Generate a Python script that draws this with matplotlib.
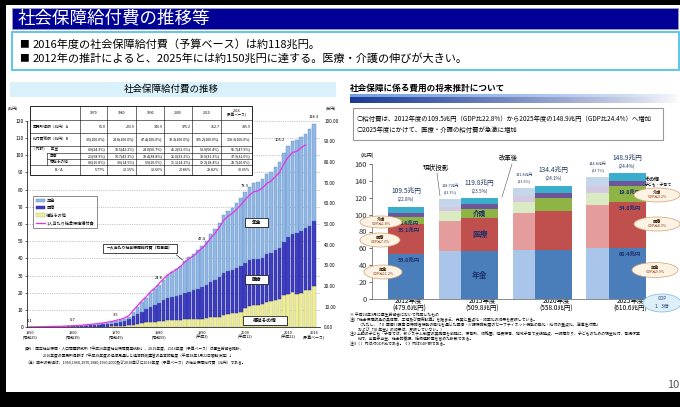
import matplotlib
matplotlib.use('Agg')
import matplotlib.pyplot as plt
from matplotlib.patches import Rectangle, Ellipse, Patch
from matplotlib.lines import Line2D
import numpy as np

plt.rcParams['font.family'] = ['Noto Sans CJK JP', 'DejaVu Sans']

# ---------------- data: left chart (社会保障給付費の推移) ----------------
years = list(range(1950, 2017))
pension = [0.00, 0.00, 0.01, 0.01, 0.02, 0.02, 0.03, 0.04, 0.05, 0.08,
           0.15, 0.17, 0.20, 0.23, 0.27, 0.32, 0.39, 0.47, 0.56, 0.67,
           0.86, 1.02, 1.28, 1.63, 2.48, 3.88, 5.32, 6.48, 7.92, 9.13,
           10.5, 11.9, 13.2, 14.3, 15.3, 17.0, 18.9, 20.2, 21.0, 22.5,
           24.0, 25.7, 27.5, 29.1, 31.3, 33.5, 34.7, 36.1, 37.7, 39.5,
           41.2, 42.6, 44.2, 44.7, 45.5, 46.1, 47.3, 48.3, 49.5, 51.7,
           53.0, 53.8, 53.9, 54.6, 54.3, 56.0, 56.7]
medical = [0.06, 0.08, 0.10, 0.14, 0.16, 0.20, 0.21, 0.22, 0.27, 0.29,
           0.29, 0.39, 0.49, 0.62, 0.79, 0.95, 1.11, 1.27, 1.48, 1.69,
           2.06, 2.30, 2.80, 3.51, 5.06, 5.71, 6.68, 7.59, 8.76, 9.49,
           10.7, 11.9, 12.9, 13.6, 14.1, 14.3, 15.1, 15.8, 16.5, 17.4,
           18.4, 19.2, 20.7, 21.7, 23.0, 24.1, 25.1, 25.3, 25.9, 26.4,
           26.0, 26.6, 26.2, 26.6, 27.1, 28.1, 28.1, 28.9, 29.6, 30.8,
           32.9, 34.0, 35.3, 36.0, 36.4, 37.2, 37.9]
welfare = [0.07, 0.08, 0.09, 0.11, 0.12, 0.17, 0.16, 0.17, 0.18, 0.18,
           0.21, 0.23, 0.26, 0.29, 0.31, 0.33, 0.37, 0.41, 0.45, 0.50,
           0.60, 0.70, 0.85, 1.10, 1.48, 2.18, 2.49, 2.79, 3.09, 3.36,
           3.6, 3.8, 4.0, 4.1, 4.2, 4.4, 4.6, 4.7, 4.9, 5.0,
           5.0, 5.2, 5.7, 6.0, 6.2, 7.4, 7.8, 8.1, 8.5, 9.1,
           11.1, 12.2, 13.2, 12.9, 13.4, 14.7, 15.0, 15.9, 16.7, 18.5,
           19.3, 20.3, 19.4, 20.1, 21.4, 21.7, 23.7]
pc_years = list(range(1950, 2015))
per_capita = [0.16, 0.19, 0.23, 0.30, 0.34, 0.44, 0.44, 0.47, 0.54, 0.59,
              0.70, 0.84, 1.00, 1.19, 1.41, 1.63, 1.89, 2.15, 2.46, 2.79,
              3.39, 3.82, 4.58, 5.72, 8.16, 10.52, 12.82, 14.77, 17.17, 18.92,
              21.18, 23.38, 25.33, 26.75, 27.95, 29.47, 31.70, 33.31, 34.51, 36.46,
              38.36, 40.37, 43.26, 45.49, 48.30, 51.75, 53.73, 55.06, 57.04, 59.23,
              61.74, 63.95, 65.58, 66.03, 67.35, 69.54, 70.73, 72.90, 74.84, 79.17,
              82.31, 84.58, 85.14, 86.90, 88.21]
label_years = [1950, 1960, 1970, 1980, 1990, 2000, 2010, 2016]
label_texts = ['0.1', '0.7', '3.5', '24.8', '47.4', '78.3', '105.2', '118.3']
xtick_years = [1950, 1960, 1970, 1980, 1990, 2000, 2010, 2016]
xtick_eras = ['(昭和25)', '(昭和35)', '(昭和45)', '(昭和55)', '(平成2)', '(平成12)', '(平成22)', '(予算ベース)']

table_cols = ['1970', '1980', '1990', '2000', '2010', '2016\n(予算ベース)']
national_income = ['61.0', '203.9', '346.9', '375.2', '352.7', '385.9']
total_benefit = ['3.5(100.0%)', '24.8(100.0%)', '47.4(100.0%)', '78.3(100.0%)', '105.2(100.0%)', '118.3(100.0%)']
pension_row = ['0.9(24.3%)', '10.5(42.2%)', '24.0(50.7%)', '41.2(52.6%)', '53.0(50.4%)', '56.7(47.9%)']
medical_row = ['2.1(58.9%)', '10.7(43.3%)', '18.4(38.8%)', '26.0(33.2%)', '32.9(31.3%)', '37.9(32.0%)']
welfare_row = ['0.6(16.8%)', '3.6(14.5%)', '5.0(10.5%)', '11.1(14.2%)', '19.3(18.4%)', '23.7(20.0%)']
ratio_row = ['5.77%', '12.15%', '13.66%', '20.86%', '29.82%', '30.65%']

# ---------------- data: right chart (将来推計) ----------------
proj_years = ['2012年度', '2015年度', '2020年度', '2025年度']
proj_gdp = ['(479.6兆円)', '(509.8兆円)', '(558.0兆円)', '(610.6兆円)']
proj_pct = ['(22.8%)', '(23.5%)', '(24.1%)', '(24.4%)']
seg_names = ['年金', '医療', '介護', '子ども・子育て', 'その他']
reform = {  # 改革後
    '年金': [53.8, 56.5, 58.5, 60.4],
    '医療': [35.1, 40.0, 46.0, 54.0],
    '介護': [8.4, 10.5, 15.3, 19.8],
    '子ども・子育て': [4.8, 5.5, 6.0, 5.6],
    'その他': [7.4, 7.3, 8.6, 9.1],
}
current = {  # 現状投影 (2015, 2020, 2025)
    '年金': [56.5, 58.5, 60.4],
    '医療': [36.5, 44.0, 51.5],
    '介護': [11.0, 12.5, 13.5],
    '子ども・子育て': [5.5, 6.5, 8.0],
    'その他': [9.2, 10.3, 11.4],
}
current_pct = ['(23.3%)', '(23.6%)', '(23.7%)']

# ---------------- figure ----------------
W, H = 680, 407
fig = plt.figure(figsize=(6.8, 4.07), dpi=100, facecolor='black')


def rect(x0, y0, x1, y1):
    return [x0 / W, 1 - y1 / H, (x1 - x0) / W, (y1 - y0) / H]


bg = fig.add_axes([0, 0, 1, 1], zorder=0)
bg.set_xlim(0, W); bg.set_ylim(H, 0); bg.axis('off')
fg = fig.add_axes([0, 0, 1, 1], zorder=10)
fg.set_xlim(0, W); fg.set_ylim(H, 0); fg.axis('off')

# slide background
bg.add_patch(Rectangle((6, 5), 674, 387, fc='white', ec='none'))

# header
bg.add_patch(Rectangle((12, 8), 666, 20.5, fc='#000096', ec='#9a9ab8', lw=0.6))
bg.text(18, 18.5, '社会保障給付費の推移等', color='white', fontsize=12.6, va='center')
bg.add_patch(Rectangle((12, 32), 667, 38, fc='white', ec='#55C2E6', lw=1.3))
bg.text(19, 44, '■', fontsize=7, va='center')
bg.text(33, 44, '2016年度の社会保障給付費（予算ベース）は約118兆円。', fontsize=8.0, va='center')
bg.text(19, 58, '■', fontsize=7, va='center')
bg.text(33, 58, '2012年の推計によると、2025年には約150兆円に達する。医療・介護の伸びが大きい。', fontsize=8.0, va='center')

# ---------------- left chart ----------------
bg.add_patch(Rectangle((10, 82), 326, 15, fc='#D8F1FA', ec='none'))
bg.text(171, 89.5, '社会保障給付費の推移', fontsize=6.8, ha='center', va='center')

c_pen, c_med, c_wel, c_pc = '#92B8E4', '#3E3EC2', '#EEEE9A', '#E632E6'
ax1 = fig.add_axes(rect(27, 120.6, 320, 327.3), zorder=2)
ax1.set_facecolor('none')
px_per_year = 4.303
ax1.set_xlim(1950 - 3 / px_per_year, 1950 + 290 / px_per_year)
ax1.set_ylim(0, 120)
b1 = np.array(welfare)
b2 = b1 + np.array(medical)
ax1.bar(years, welfare, width=0.8, color=c_wel, edgecolor='#B9B96A', lw=0.3, zorder=3)
ax1.bar(years, medical, bottom=b1, width=0.8, color=c_med, edgecolor='#26268C', lw=0.3, zorder=3)
ax1.bar(years, pension, bottom=b2, width=0.8, color=c_pen, edgecolor='#5E8CC4', lw=0.3, zorder=3)
ax1.set_yticks(range(0, 121, 10))
ax1.yaxis.grid(True, ls=(0, (2, 2)), color='#9a9a9a', lw=0.4)
ax1.set_axisbelow(True)
ax1.tick_params(axis='y', labelsize=3.6, length=1.5, width=0.4, pad=1)
ax1.set_xticks(xtick_years)
ax1.set_xticklabels([f'{y}\n{e}' for y, e in zip(xtick_years, xtick_eras)], fontsize=2.8, linespacing=1.3)
ax1.tick_params(axis='x', length=0, pad=2.5)
for s in ['top', 'right']:
    ax1.spines[s].set_visible(False)
for s in ['left', 'bottom']:
    ax1.spines[s].set_linewidth(0.5)
totals = dict(zip(years, b2 + np.array(pension)))
for yr, txt in zip(label_years, label_texts):
    dx = -6 if yr == 2010 else 0
    ax1.annotate(txt, (yr, totals[yr]), xytext=(dx, 3), textcoords='offset points',
                 ha='center', va='bottom', fontsize=2.9, zorder=6)

ax1r = ax1.twinx()
ax1r.set_ylim(0, 100)
ax1r.plot(pc_years, per_capita, color=c_pc, lw=0.9, zorder=5)
ax1r.set_yticks(range(0, 101, 10))
ax1r.set_yticklabels([f'{v:.2f}' for v in range(0, 101, 10)])
ax1r.tick_params(axis='y', labelsize=3.3, length=0, pad=3)
for s in ['top', 'right', 'left', 'bottom']:
    ax1r.spines[s].set_visible(False)

leg = ax1.legend(handles=[Patch(fc=c_pen, ec='#5E8CC4', lw=0.3, label='年金'),
                          Patch(fc=c_med, ec='#26268C', lw=0.3, label='医療'),
                          Patch(fc=c_wel, ec='#B9B96A', lw=0.3, label='福祉その他'),
                          Line2D([], [], color=c_pc, lw=0.9, label='1人当たり社会保障給付費')],
                 loc='upper left', bbox_to_anchor=(0.015, 0.645), fontsize=3, frameon=True,
                 fancybox=False, edgecolor='black', handlelength=2.2, handleheight=0.9,
                 borderpad=0.6, labelspacing=0.75, handletextpad=0.3)
leg.get_frame().set_linewidth(0.4)
leg.set_zorder(7)

fg.text(13, 108.5, '(兆円)', fontsize=2.8, ha='center', va='center')
fg.text(331, 108.5, '(万円)', fontsize=2.8, ha='center', va='center')

# table
row_y = [106, 120, 133, 146, 153, 159, 165, 175]
col_x = [30, 80, 107, 136, 164, 192, 221, 252]
fg.add_patch(Rectangle((col_x[0], row_y[0]), col_x[-1] - col_x[0], row_y[-1] - row_y[0],
                       fc='white', ec='black', lw=0.6))
for i, yv in enumerate(row_y[1:-1], start=1):
    x_start = 47 if i in (4, 5) else col_x[0]
    fg.plot([x_start, col_x[-1]], [yv, yv], color='black', lw=0.4)
for xv in col_x[1:-1]:
    fg.plot([xv, xv], [row_y[0], row_y[-1]], color='black', lw=0.4)
fg.plot([47, 47], [row_y[4], row_y[6]], color='black', lw=0.4)
for j, c in enumerate(table_cols):
    fg.text((col_x[j + 1] + col_x[j + 2]) / 2, (row_y[0] + row_y[1]) / 2, c, fontsize=2.5,
            ha='center', va='center', linespacing=1.1)
row_labels = [('国民所得額（兆円）A', 33), ('給付費総額（兆円）B', 33), ('（内訳）　年金', 32),
              ('医療', 50), ('福祉その他', 50), ('B／A', 55)]
rows_data = [national_income, total_benefit, pension_row, medical_row, welfare_row, ratio_row]
for i, ((lab, lx), vals) in enumerate(zip(row_labels, rows_data)):
    yc = (row_y[i + 1] + row_y[i + 2]) / 2
    fg.text(lx, yc, lab, fontsize=2.7, ha='left', va='center')
    for j, v in enumerate(vals):
        fg.text(col_x[j + 2] - 1.5, yc, v, fontsize=2.6, ha='right', va='center')

# in-chart boxes
for (x0, y0, w, h, s) in [(245, 218, 23, 9, '年金'), (245, 275, 23, 9, '医療'), (243, 316, 44, 9, '福祉その他')]:
    fg.add_patch(Rectangle((x0 + 1, y0 + 1), w, h, fc='#777777', ec='none'))
    fg.add_patch(Rectangle((x0, y0), w, h, fc='white', ec='black', lw=0.5))
    fg.text(x0 + w / 2, y0 + h / 2, s, fontsize=3.4, fontweight='bold', ha='center', va='center')
fg.add_patch(Rectangle((103, 244), 74, 9, fc='white', ec='black', lw=0.5))
fg.text(140, 248.5, '一人当たり社会保障給付費（右目盛）', fontsize=2.8, fontweight='bold', ha='center', va='center')
ax1r.annotate('', xy=(1986, per_capita[pc_years.index(1986)]), xytext=(174 / W, 1 - 253 / H),
              textcoords='figure fraction',
              arrowprops=dict(arrowstyle='-', color='black', lw=0.4))

# notes left
fg.text(25, 349, '資料：国立社会保障・人口問題研究所「平成26年度社会保障費用統計」、2015年度、2016年度（予算ベース）は厚生労働省推計、',
        fontsize=2.7, va='center')
fg.text(43, 356, '2016年度の国民所得額は「平成28年度の経済見通しと経済財政運営の基本的態度（平成28年1月22日閣議決定）」',
        fontsize=2.7, va='center')
fg.text(25, 362.5, '（注）図中の数値は、1950,1960,1970,1980,1990,2000及び2010並びに2016年度（予算ベース）の社会保障給付費（兆円）である。',
        fontsize=2.7, va='center')

# ---------------- right chart ----------------
fg.text(350, 88, '社会保障に係る費用の将来推計について', fontsize=6.2, fontweight='bold', va='center')
grad = np.linspace(1, 0, 256)
g1 = np.zeros((1, 256, 4)); g1[..., 0] = 0.45; g1[..., 1] = 0.62; g1[..., 2] = 0.88; g1[..., 3] = grad ** 0.6
g2 = np.zeros((1, 256, 4)); g2[..., 0] = 0.10; g2[..., 1] = 0.22; g2[..., 2] = 0.58; g2[..., 3] = grad ** 0.8
bg.imshow(g1, extent=(350, 680, 97, 94), aspect='auto', interpolation='bilinear', zorder=2)
bg.imshow(g2, extent=(350, 680, 103, 97), aspect='auto', interpolation='bilinear', zorder=2)
bg.set_xlim(0, W); bg.set_ylim(H, 0)
bg.add_patch(Rectangle((353, 108), 310, 32, fc='white', ec='#9a9a9a', lw=0.8))
bg.text(357, 119, '○給付費は、2012年度の109.5兆円（GDP比22.8%）から2025年度の148.9兆円（GDP比24.4%）へ増加',
        fontsize=4.6, va='center')
bg.text(357, 130, '○2025年度にかけて、医療・介護の給付費が急激に増加', fontsize=4.6, va='center')

dark_cols = {'年金': '#4A7EBB', '医療': '#C0504D', '介護': '#8DB444', '子ども・子育て': '#6F559A', 'その他': '#3AAECB'}
light_cols = {'年金': '#A9C6EA', '医療': '#E59C9C', '介護': '#DAEAC2', '子ども・子育て': '#D3CAE2', 'その他': '#C4D6EA'}
ax2 = fig.add_axes(rect(372, 164, 650, 299), zorder=2)
ax2.set_facecolor('none')
ax2.set_ylim(0, 160)
ax2.set_xlim(-0.461, 3.31)
pos = np.arange(len(proj_years))
bw = 0.5
off = -0.305
bottom_c = np.zeros(3)
for s in seg_names:
    ax2.bar(pos[1:] + off, current[s], bottom=bottom_c, width=bw, color=light_cols[s], ec='none', zorder=2)
    bottom_c += np.array(current[s])
bottom_r = np.zeros(4)
tops = {}
for s in seg_names:
    ax2.bar(pos, reform[s], bottom=bottom_r, width=bw, color=dark_cols[s], ec='none', zorder=3)
    bottom_r = bottom_r + np.array(reform[s])
    tops[s] = bottom_r.copy()
ax2.set_yticks(range(0, 161, 20))
ax2.tick_params(axis='y', labelsize=5.4, length=2, width=0.5, pad=1.5, colors='#333333')
ax2.set_xticks(pos + 0.04)
ax2.set_xticklabels([f'{a}\n{b}' for a, b in zip(proj_years, proj_gdp)], fontsize=4.7, linespacing=1.0)
ax2.tick_params(axis='x', length=0, pad=-1.5)
for s in ['top', 'right']:
    ax2.spines[s].set_visible(False)
for s in ['left', 'bottom']:
    ax2.spines[s].set_linewidth(0.6)
    ax2.spines[s].set_color('#777777')
fg.text(367, 155, '(兆円)', fontsize=3.6, ha='center', va='center')

navy = '#1F2F6B'
for i in range(4):
    ax2.annotate(f'{bottom_r[i]:.1f}兆円', (pos[i], bottom_r[i]), xytext=(0, 11), textcoords='offset points',
                 ha='center', va='center', fontsize=4.8, color='#1F3A5F', zorder=6)
    ax2.annotate(proj_pct[i], (pos[i], bottom_r[i]), xytext=(0, 5), textcoords='offset points',
                 ha='center', va='center', fontsize=3.4, color='#1F3A5F', zorder=6)
cur_tot = bottom_c
for i in range(3):
    ax2.annotate(f'{cur_tot[i]:.1f}兆円', (pos[i + 1] + off, cur_tot[i]), xytext=(-5, 9), textcoords='offset points',
                 ha='center', va='center', fontsize=2.8, color='#1F3A5F', zorder=6)
    ax2.annotate(current_pct[i], (pos[i + 1] + off, cur_tot[i]), xytext=(-5, 4.5), textcoords='offset points',
                 ha='center', va='center', fontsize=2.6, color='#1F3A5F', zorder=6)
# segment value labels (2012 and 2025)
for i in (0, 3):
    for s in ['年金', '医療', '介護']:
        v = reform[s][i]
        ax2.annotate(f'{v:.1f}兆円', (pos[i] + 0.04, tops[s][i]), xytext=(0, -4.5), textcoords='offset points',
                     ha='center', va='center', fontsize=3.9, fontweight='bold', color=navy, zorder=6)
# segment names in 2015
for s in ['年金', '医療', '介護']:
    mid = tops[s][1] - reform[s][1] / 2
    ax2.text(pos[1], mid, s, fontsize=5.6 if s != '介護' else 4.8, fontweight='bold', color=navy,
             ha='center', va='center', zorder=6)

fg.text(436, 168, '現状投影', fontsize=4.8, ha='center', va='center')
fg.plot([437, 440], [173, 196], color='#555555', lw=0.4)
fg.text(508, 158, '改革後', fontsize=4.6, ha='center', va='center')
fg.plot([512, 502], [164, 197], color='#555555', lw=0.4)
fg.text(645, 179, 'その他', fontsize=3.6, fontweight='bold', va='center')
fg.text(645, 184.5, '子ども・子育て', fontsize=2.8, va='center')

ell = [(381, 222, 42, 12, '介護', 'GDP比1.8%'), (380, 240, 40, 14, '医療', 'GDP比7.3%'),
       (383, 272, 38, 14, '年金', 'GDP比11.2%'), (657, 195, 46, 14, '介護', 'GDP比3.2%'),
       (657, 224, 46, 14, '医療', 'GDP比8.9%'), (655, 270, 46, 15, '年金', 'GDP比9.9%')]
for (cx, cy, w, h, a, b) in ell:
    fg.add_patch(Ellipse((cx, cy), w, h, fc='#FDF3E4', ec='#D2A070', lw=0.5))
    fg.text(cx, cy - 2.3, a, fontsize=3.0, fontweight='bold', ha='center', va='center', color='#3A1A00')
    fg.text(cx, cy + 2.4, b, fontsize=2.6, ha='center', va='center', color='#8A3A10')
fg.add_patch(Ellipse((662, 303), 38, 18, fc='#DDF0FA', ec='#7AB6D8', lw=0.5))
fg.text(662, 299, 'GDP', fontsize=3.2, ha='center', va='center', color='#1F3A6F')
fg.text(662, 306, '1．3倍', fontsize=3.4, ha='center', va='center', color='#1F3A6F')

notes_r = [
    (350, 315, '※ 平成24年3月に厚生労働省において作成したもの'),
    (350, 319.8, '注1「社会保障改革の具体策、工程及び費用試算」を踏まえ、充実と重点化・効率化の効果を反映している。'),
    (358, 324.6, '（ただし、「Ⅱ 医療介護等 ②保険者機能の強化を通じた医療・介護保険制度のセーフティネット機能の強化・給付の重点化、逆進性対策」'),
    (358, 329.4, 'および「Ⅲ 年金」の効果は、反映していない。）'),
    (350, 334.2, '注2 上記の子ども・子育ては、新システム制度の実施等を前提に、保育所、幼稚園、延長保育、地域子育て支援拠点、一時預かり、子どものための現金給付、育児休業'),
    (358, 339, '給付、出産手当金、社会的養護、妊婦健診等を含めた計数である。'),
    (350, 343.8, '注3（ ）内は対GDP比である。《 》内はGDP額である。'),
]
for x, y, s in notes_r:
    fg.text(x, y, s, fontsize=2.8, va='center')
fg.text(667, 385, '10', fontsize=8, color='#555555', va='center')

fig.savefig('out.png', dpi=100, facecolor='black')
